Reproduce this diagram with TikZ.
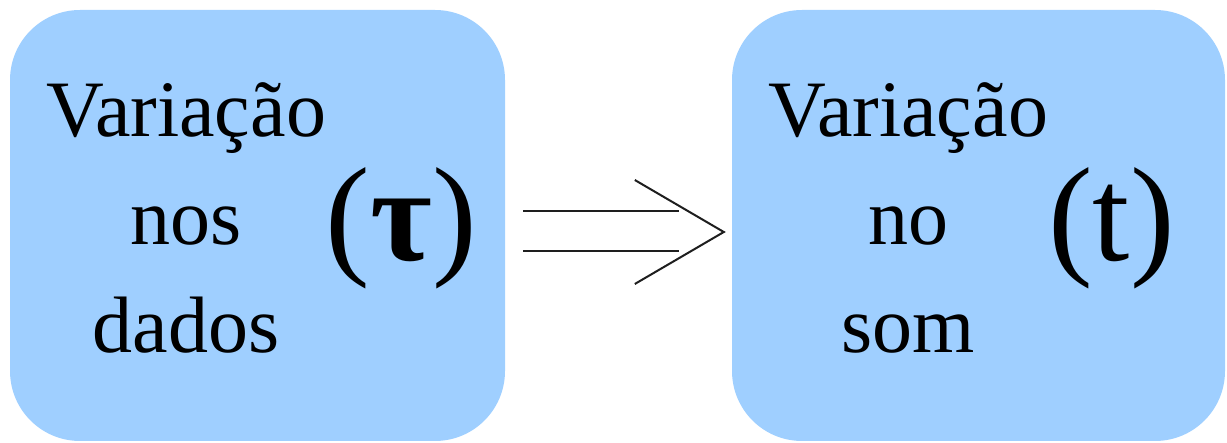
\documentclass[tikz,border=0pt]{standalone}
\usepackage{fontspec}
\setmainfont{Liberation Serif}
\usetikzlibrary{calc}
\definecolor{boxblue}{RGB}{159,207,255}
\definecolor{arrowgray}{RGB}{30,30,30}
\begin{document}
\begin{tikzpicture}[x=1pt,y=-1pt,
  panel/.style={fill=boxblue, draw=none, rounded corners=70pt, inner sep=0pt},
  words/.style={anchor=base, inner sep=0pt, font=\fontsize{80}{96}\selectfont},
  symbol/.style={anchor=base, inner sep=0pt, font=\fontsize{134}{160}\selectfont},
  shaft/.style={draw=arrowgray, line width=2.6pt},
  head/.style={draw=arrowgray, line width=2pt, line join=miter}]
\useasboundingbox (0,0) rectangle (1227,443);

% the two panels
\node[panel, minimum width=495pt, minimum height=431pt] (left) at (257.5,225.5) {};
\node[panel, minimum width=493pt, minimum height=431pt] (right) at (978.5,225.5) {};

% left panel text
\node[words] (l1) at (186,137) {Variação};
\node[words] (l2) at (186,245) {nos};
\node[words] (l3) at (186,353) {dados};
\node[symbol] (tau) at (401.5,261) {(\textbf{τ})};

% right panel text
\node[words] (r1) at (908,137) {Variação};
\node[words] (r2) at (908,245) {no};
\node[words] (r3) at (908,353) {som};
\node[symbol] (t) at (1111.5,261) {(t)};

% double arrow between the panels
\coordinate (upperA) at ($(left.east)+(18,-14.5)$);
\coordinate (lowerA) at ($(left.east)+(18,25.5)$);
\coordinate (upperB) at ($(upperA)+(156,0)$);
\coordinate (lowerB) at ($(lowerA)+(156,0)$);
\coordinate (tip) at ($(right.west)+(-8,6.5)$);
\coordinate (wingA) at ($(tip)+(-89,-52)$);
\coordinate (wingB) at ($(tip)+(-89,52)$);
\draw[shaft] (upperA) -- (upperB);
\draw[shaft] (lowerA) -- (lowerB);
\draw[head] (wingA) -- (tip) -- (wingB);
\end{tikzpicture}
\end{document}
